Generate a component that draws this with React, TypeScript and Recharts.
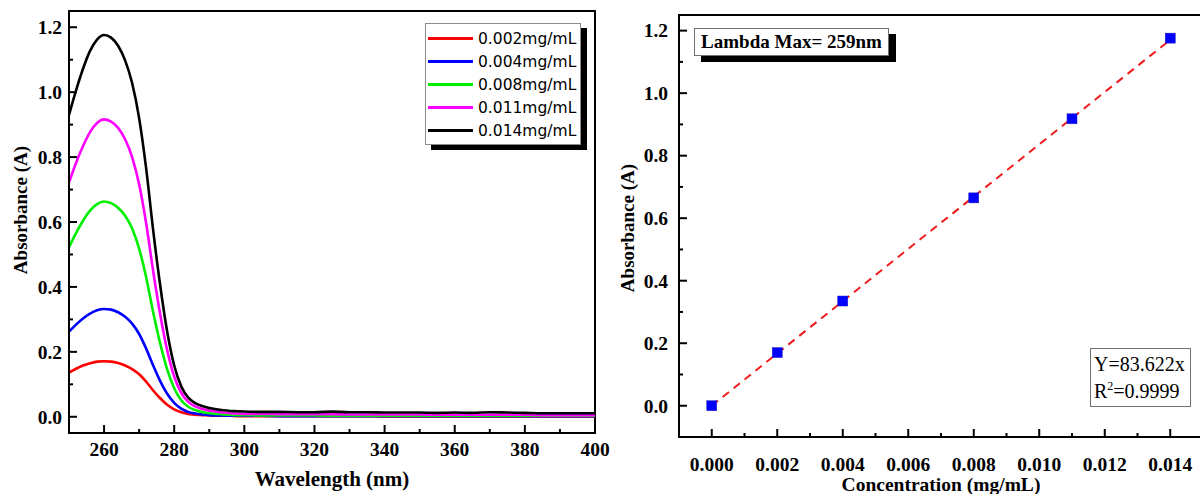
import React from 'react';
import {
  LineChart,
  Line,
  XAxis,
  YAxis,
  Legend,
  ReferenceArea,
  ComposedChart,
  Scatter,
} from 'recharts';

// ---------- Left panel: UV spectra ----------
const wavelengths = [
  250, 252, 254, 256, 258, 260, 262, 264, 266, 268, 270, 272, 274, 276, 278, 280, 282, 284, 286, 288, 290, 292, 294,
  296, 298, 300, 305, 310, 315, 320, 325, 330, 335, 340, 345, 350, 355, 360, 365, 370, 375, 380, 385, 390, 395, 400,
];
const abs002 = [
  0.136, 0.148, 0.158, 0.165, 0.17, 0.171, 0.17, 0.166, 0.158, 0.147, 0.131, 0.108, 0.081, 0.057, 0.037, 0.023, 0.014,
  0.009, 0.006, 0.005, 0.004, 0.003, 0.003, 0.003, 0.002, 0.002, 0.002, 0.002, 0.002, 0.002, 0.002, 0.002, 0.002,
  0.001, 0.001, 0.001, 0.001, 0.001, 0.001, 0.001, 0.001, 0.001, 0.001, 0.001, 0.001, 0.001,
];
const abs004 = [
  0.262, 0.284, 0.303, 0.318, 0.328, 0.332, 0.33, 0.322, 0.308, 0.287, 0.255, 0.21, 0.158, 0.11, 0.071, 0.043, 0.025,
  0.015, 0.01, 0.007, 0.005, 0.004, 0.004, 0.003, 0.003, 0.003, 0.003, 0.002, 0.002, 0.002, 0.002, 0.002, 0.002,
  0.002, 0.002, 0.002, 0.002, 0.002, 0.002, 0.002, 0.002, 0.002, 0.002, 0.002, 0.002, 0.002,
];
const abs008 = [
  0.522, 0.566, 0.604, 0.635, 0.655, 0.663, 0.658, 0.644, 0.619, 0.58, 0.518, 0.43, 0.322, 0.226, 0.146, 0.088, 0.051,
  0.031, 0.021, 0.015, 0.011, 0.009, 0.007, 0.006, 0.005, 0.005, 0.004, 0.004, 0.004, 0.004, 0.003, 0.003, 0.003,
  0.003, 0.003, 0.003, 0.003, 0.003, 0.003, 0.003, 0.003, 0.003, 0.003, 0.003, 0.003, 0.003,
];
const abs011 = [
  0.722, 0.782, 0.834, 0.877, 0.905, 0.916, 0.909, 0.89, 0.855, 0.8, 0.716, 0.596, 0.449, 0.316, 0.205, 0.124, 0.074,
  0.046, 0.032, 0.024, 0.019, 0.016, 0.013, 0.011, 0.01, 0.009, 0.009, 0.008, 0.008, 0.008, 0.008, 0.007, 0.007,
  0.007, 0.007, 0.007, 0.006, 0.006, 0.006, 0.006, 0.006, 0.006, 0.005, 0.005, 0.005, 0.005,
];
const abs014 = [
  0.93, 1.005, 1.072, 1.127, 1.162, 1.176, 1.168, 1.143, 1.098, 1.028, 0.92, 0.765, 0.575, 0.405, 0.262, 0.158, 0.094,
  0.059, 0.042, 0.033, 0.027, 0.023, 0.02, 0.018, 0.017, 0.016, 0.015, 0.015, 0.014, 0.014, 0.016, 0.014, 0.014,
  0.013, 0.013, 0.013, 0.012, 0.013, 0.012, 0.014, 0.013, 0.012, 0.011, 0.011, 0.011, 0.011,
];
const seriesKeys = ['c002', 'c004', 'c008', 'c011', 'c014'];
const seriesNames = ['0.002mg/mL', '0.004mg/mL', '0.008mg/mL', '0.011mg/mL', '0.014mg/mL'];
const seriesColors = ['#ff0000', '#0000ff', '#00ee00', '#ff00ff', '#000000'];
const seriesValues = [abs002, abs004, abs008, abs011, abs014];

const spectraData = wavelengths.map((wl, i) => {
  const row: Record<string, number> = { wl };
  seriesKeys.forEach((k, j) => {
    row[k] = seriesValues[j][i];
  });
  return row;
});

const wlMajorTicks = [260, 280, 300, 320, 340, 360, 380, 400];
const wlMinorTicks = [270, 290, 310, 330, 350, 370, 390];
const absMajorTicks = [0, 0.2, 0.4, 0.6, 0.8, 1.0, 1.2];
const absMinorTicks = [0.1, 0.3, 0.5, 0.7, 0.9, 1.1];

// ---------- Right panel: calibration ----------
const concentrations = [0, 0.002, 0.004, 0.008, 0.011, 0.014];
const absorbances = [0, 0.17, 0.335, 0.665, 0.918, 1.176];
const fitX = [0, 0.014];
const fitY = [0, 1.1707];
const concMajorTicks = [0, 0.002, 0.004, 0.006, 0.008, 0.01, 0.012, 0.014];
const concMinorTicks = [0.001, 0.003, 0.005, 0.007, 0.009, 0.011, 0.013];

const calPoints = concentrations.map((x, i) => ({ x, y: absorbances[i] }));
const fitLine = fitX.map((x, i) => ({ x, y: fitY[i] }));

const SERIF = "'Liberation Serif', 'Times New Roman', serif";
const TICK_FS = 19.5;

const isIn = (arr: number[], v: number) => arr.some((m) => Math.abs(m - v) < 1e-9);

const makeYTick = (majors: number[], fmt: (v: number) => string, gap: number) => (props: any) => {
  const { x, y, payload } = props;
  const v = payload.value;
  const major = isIn(majors, v);
  const len = major ? 8 : 4;
  return (
    <g>
      <line x1={x} x2={x + len} y1={y} y2={y} stroke="#000" strokeWidth={2} />
      {major && (
        <text
          x={x - gap}
          y={y}
          dy="0.35em"
          textAnchor="end"
          fontFamily={SERIF}
          fontWeight="bold"
          fontSize={TICK_FS}
          fill="#000"
        >
          {fmt(v)}
        </text>
      )}
    </g>
  );
};

const makeXTick = (majors: number[], fmt: (v: number) => string, gap: number) => (props: any) => {
  const { x, y, payload } = props;
  const v = payload.value;
  const major = isIn(majors, v);
  const len = major ? 8 : 4;
  return (
    <g>
      <line x1={x} x2={x} y1={y} y2={y - len} stroke="#000" strokeWidth={2} />
      {major && (
        <text
          x={x}
          y={y + gap}
          dy="0.71em"
          textAnchor="middle"
          fontFamily={SERIF}
          fontWeight="bold"
          fontSize={TICK_FS}
          fill="#000"
        >
          {fmt(v)}
        </text>
      )}
    </g>
  );
};

const SpectraLegend = (props: any) => {
  const payload = props.payload || [];
  return (
    <div
      style={{
        width: 156,
        height: 122,
        border: '1px solid #8c8c8c',
        background: '#fff',
        boxShadow: '6px 5px 0 #000',
        boxSizing: 'border-box',
        paddingTop: 3,
      }}
    >
      {payload.map((p: any) => (
        <div key={p.value} style={{ display: 'flex', alignItems: 'center', height: 23 }}>
          <span
            style={{
              display: 'inline-block',
              width: 45,
              height: 3,
              background: p.color,
              marginLeft: 2,
              marginRight: 5,
            }}
          />
          <span style={{ fontFamily: "'DejaVu Sans', Verdana, sans-serif", fontSize: 15.5, color: '#000' }}>
            {p.value}
          </span>
        </div>
      ))}
    </div>
  );
};

const titleStyle = { fontFamily: SERIF, fontWeight: 'bold' as const, fill: '#000' };

export default function App() {
  return (
    <div
      style={{
        position: 'fixed',
        left: 0,
        top: 0,
        width: 1200,
        height: 494,
        overflow: 'hidden',
        background: '#fff',
      }}
    >
      {/* Left chart */}
      <div style={{ position: 'absolute', left: 0, top: 0 }}>
        <LineChart width={625} height={494} data={spectraData} margin={{ top: 11, right: 30, bottom: 0, left: 0 }}>
          <XAxis
            dataKey="wl"
            type="number"
            domain={[250, 400]}
            allowDataOverflow
            ticks={[...wlMajorTicks, ...wlMinorTicks].sort((a, b) => a - b)}
            interval={0}
            height={61}
            tickSize={0}
            tickMargin={0}
            axisLine={{ stroke: '#000', strokeWidth: 2 }}
            tickLine={false}
            tick={makeXTick(wlMajorTicks, (v) => String(v), 9)}
            label={{
              content: () => (
                <text x={332} y={486} textAnchor="middle" fontSize={21} {...titleStyle}>
                  Wavelength (nm)
                </text>
              ),
            }}
          />
          <YAxis
            type="number"
            domain={[-0.05, 1.25]}
            allowDataOverflow
            ticks={[...absMajorTicks, ...absMinorTicks].sort((a, b) => a - b)}
            interval={0}
            width={69}
            tickSize={0}
            tickMargin={0}
            axisLine={{ stroke: '#000', strokeWidth: 2 }}
            tickLine={false}
            tick={makeYTick(absMajorTicks, (v) => v.toFixed(1), 7)}
            label={{
              content: () => (
                <text
                  x={27}
                  y={210}
                  transform="rotate(-90 27 210)"
                  textAnchor="middle"
                  fontSize={19}
                  {...titleStyle}
                >
                  Absorbance (A)
                </text>
              ),
            }}
          />
          <ReferenceArea
            x1={250}
            x2={400}
            y1={-0.05}
            y2={1.25}
            fill="none"
            fillOpacity={0}
            stroke="#000"
            strokeWidth={2}
          />
          {seriesKeys.map((k, j) => (
            <Line
              key={k}
              dataKey={k}
              name={seriesNames[j]}
              stroke={seriesColors[j]}
              strokeWidth={2.6}
              dot={false}
              type="monotone"
              isAnimationActive={false}
            />
          ))}
          <Legend
            layout="horizontal"
            verticalAlign="middle"
            align="center"
            content={<SpectraLegend />}
            wrapperStyle={{ left: 425, top: 23, width: 156, height: 122 }}
          />
        </LineChart>
      </div>

      {/* Right chart */}
      <div style={{ position: 'absolute', left: 600, top: 0 }}>
        <ComposedChart width={604} height={494} margin={{ top: 15, right: 1, bottom: 0, left: 0 }}>
          <XAxis
            dataKey="x"
            type="number"
            domain={[-0.001, 0.015]}
            allowDataOverflow
            ticks={[...concMajorTicks, ...concMinorTicks].sort((a, b) => a - b)}
            interval={0}
            height={57}
            tickSize={0}
            tickMargin={0}
            axisLine={{ stroke: '#000', strokeWidth: 2 }}
            tickLine={false}
            tick={makeXTick(concMajorTicks, (v) => v.toFixed(3), 20)}
            label={{
              content: () => (
                <text x={341} y={491} textAnchor="middle" fontSize={19.5} {...titleStyle}>
                  Concentration (mg/mL)
                </text>
              ),
            }}
          />
          <YAxis
            dataKey="y"
            type="number"
            domain={[-0.1, 1.25]}
            allowDataOverflow
            ticks={[...absMajorTicks, ...absMinorTicks].sort((a, b) => a - b)}
            interval={0}
            width={79}
            tickSize={0}
            tickMargin={0}
            axisLine={{ stroke: '#000', strokeWidth: 2 }}
            tickLine={false}
            tick={makeYTick(absMajorTicks, (v) => v.toFixed(1), 11)}
            label={{
              content: () => (
                <text
                  x={34}
                  y={228}
                  transform="rotate(-90 34 228)"
                  textAnchor="middle"
                  fontSize={19}
                  {...titleStyle}
                >
                  Absorbance (A)
                </text>
              ),
            }}
          />
          <ReferenceArea
            x1={-0.001}
            x2={0.015}
            y1={-0.1}
            y2={1.25}
            fill="none"
            fillOpacity={0}
            stroke="#000"
            strokeWidth={2}
          />
          <Scatter
            data={calPoints}
            dataKey="y"
            isAnimationActive={false}
            shape={(p: any) => (
              <rect x={p.cx - 5} y={p.cy - 5} width={10} height={10} fill="#0000ff" stroke="#2020c0" strokeWidth={0.5} />
            )}
          />
          <Line
            data={fitLine}
            dataKey="y"
            stroke="#ee1c1c"
            strokeWidth={2}
            strokeDasharray="8 6"
            dot={false}
            type="linear"
            isAnimationActive={false}
          />
        </ComposedChart>
      </div>

      {/* Annotations */}
      <div
        style={{
          position: 'absolute',
          left: 694,
          top: 28,
          width: 195,
          height: 28,
          border: '1px solid #707070',
          boxSizing: 'border-box',
          background: '#fff',
          boxShadow: '7px 6px 0 #000',
          fontFamily: SERIF,
          fontWeight: 'bold',
          fontSize: 19,
          lineHeight: '26px',
          textAlign: 'center',
          color: '#000',
        }}
      >
        Lambda Max= 259nm
      </div>
      <div
        style={{
          position: 'absolute',
          left: 1090,
          top: 348,
          width: 101,
          height: 59,
          border: '1px solid #707070',
          boxSizing: 'border-box',
          background: '#fff',
          fontFamily: SERIF,
          fontSize: 20,
          lineHeight: '27px',
          paddingLeft: 3,
          paddingTop: 2,
          color: '#000',
        }}
      >
        <div>Y=83.622x</div>
        <div>
          R<sup style={{ fontSize: 12, lineHeight: 0 }}>2</sup>=0.9999
        </div>
      </div>
    </div>
  );
}
